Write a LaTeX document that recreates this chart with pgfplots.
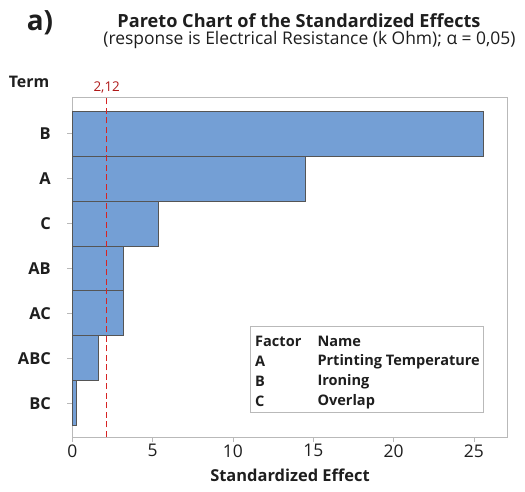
\documentclass[border=0pt]{standalone}
\usepackage{pgfplots}
\pgfplotsset{compat=1.18}
\usepackage{fontspec}
\setmainfont{Open Sans}
\definecolor{barfill}{RGB}{116,159,213}
\definecolor{baredge}{RGB}{85,85,85}
\definecolor{framegray}{RGB}{185,185,185}
\definecolor{refred}{RGB}{215,35,35}
\definecolor{labred}{RGB}{175,25,25}
\definecolor{txt}{RGB}{30,30,30}
\begin{document}
\begin{tikzpicture}
\path[use as bounding box] (-72.3bp,-55bp) rectangle (452.7bp,437bp);
\begin{axis}[
  at={(0,0)}, anchor=south west,
  scale only axis, width=435.4bp, height=339.3bp,
  xmin=0, xmax=27.1, ymin=-0.75, ymax=6.8,
  xtick={0,5,10,15,20,25},
  ytick={0,1,2,3,4,5,6},
  yticklabels={BC,ABC,AC,AB,C,A,B},
  axis line style={framegray, line width=1pt},
  tick style={framegray, line width=0.8pt},
  tick align=outside, major tick length=5bp,
  xtick pos=bottom, ytick pos=left,
  /pgf/number format/assume math mode=true,
  xticklabel style={font=\fontsize{17.5}{19}\selectfont, text=txt, yshift=1bp},
  yticklabel style={font=\bfseries\fontsize{16.5}{19}\selectfont, text=txt, xshift=-13bp},
  xlabel={\bfseries Standardized Effect},
  xlabel style={font=\fontsize{16.5}{19}\selectfont, text=txt, yshift=-5bp},
  clip=false,
]
\addplot[xbar, bar width=1, fill=barfill, draw=baredge, line width=1pt] coordinates {
  (25.6,6) (14.5,5) (5.39,4) (3.18,3) (3.2,2) (1.66,1) (0.25,0)
};
\addplot[refred, line width=1.1pt, dash pattern=on 6bp off 3.5bp] coordinates {(2.12,-0.75) (2.12,6.85)};
\end{axis}
\node[text=labred, font=\fontsize{13.5}{15}\selectfont] at (34.4bp,349bp) {2,12};
\node[text=txt, font=\bfseries\fontsize{16}{18}\selectfont] at (-43.3bp,355bp) {Term};
\node[text=txt, font=\bfseries\fontsize{28}{30}\selectfont] at (-32.3bp,414bp) {a)};
\node[text=txt, font=\bfseries\fontsize{18.2}{20}\selectfont] at (226.7bp,416bp) {Pareto Chart of the Standardized Effects};
\node[text=txt, font=\fontsize{17.5}{20}\selectfont] at (237.2bp,397bp) {(response is Electrical Resistance (k Ohm); α = 0,05)};
\draw[framegray, line width=1pt, fill=white] (178.4bp,24.7bp) rectangle (411bp,111bp);
\begin{scope}[every node/.style={anchor=west, text=txt, font=\bfseries\fontsize{14.6}{18}\selectfont, inner sep=0pt}]
\node at (182.7bp,95.3bp) {Factor};
\node at (245bp,95.3bp) {Name};
\node at (182.7bp,75.3bp) {A};
\node at (245bp,75.3bp) {Prtinting Temperature};
\node at (182.7bp,55.3bp) {B};
\node at (245bp,55.3bp) {Ironing};
\node at (182.7bp,35.3bp) {C};
\node at (245bp,35.3bp) {Overlap};
\end{scope}
\end{tikzpicture}
\end{document}
